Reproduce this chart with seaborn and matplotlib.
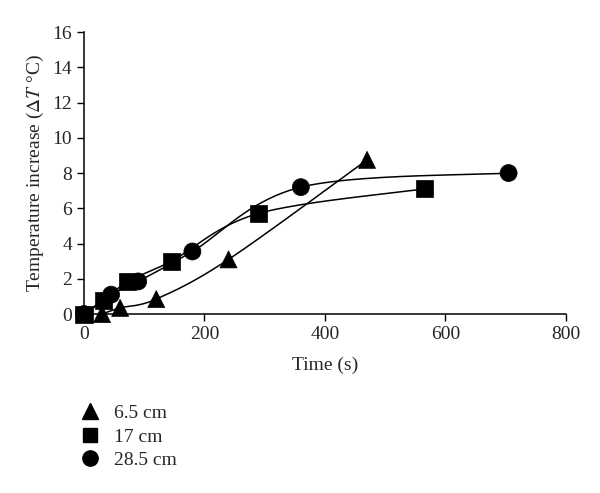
import numpy as np
import pandas as pd
import matplotlib
matplotlib.use("Agg")
import matplotlib.pyplot as plt
import seaborn as sns

# --- data ---
t_65 = [30, 60, 120, 240, 470]
dT_65 = [0.0, 0.35, 0.85, 3.1, 8.75]

t_17 = [0, 32, 73, 145, 289, 565]
dT_17 = [0.0, 0.75, 1.85, 3.0, 5.7, 7.1]

t_285 = [0, 45, 90, 180, 360, 705]
dT_285 = [0.0, 1.1, 1.85, 3.55, 7.2, 8.0]

labels = ["6.5 cm", "17 cm", "28.5 cm"]
markers = ["^", "s", "o"]

sns.set_style("ticks")
plt.rcParams["font.family"] = ["Liberation Serif", "DejaVu Serif"]
plt.rcParams["mathtext.fontset"] = "stix"

fig = plt.figure(figsize=(6, 4.93), dpi=100)
ax = fig.add_axes([0.14, 0.363, 0.803, 0.572])

XMAX, YMAX = 800, 16
W, H = 0.803 * 600, 0.572 * 493


def excel_smooth(x, y, n=40):
    # bezier smoothing like a spreadsheet "smoothed line", done in screen units
    p = np.column_stack([np.asarray(x) / XMAX * W, np.asarray(y) / YMAX * H])
    pts = []
    for i in range(len(p) - 1):
        p0 = p[max(i - 1, 0)]
        p1, p2 = p[i], p[i + 1]
        p3 = p[min(i + 2, len(p) - 1)]
        c1 = p1 + (p2 - p0) / 6
        c2 = p2 - (p3 - p1) / 6
        s = np.linspace(0, 1, n)[:, None]
        seg = (1 - s) ** 3 * p1 + 3 * (1 - s) ** 2 * s * c1 + 3 * (1 - s) * s ** 2 * c2 + s ** 3 * p2
        pts.append(seg)
    pts = np.vstack(pts)
    return pts[:, 0] / W * XMAX, pts[:, 1] / H * YMAX


series = [(t_65, dT_65), (t_17, dT_17), (t_285, dT_285)]
for (tx, ty), lab, mk in zip(series, labels, markers):
    sx, sy = excel_smooth(tx, ty)
    ax.plot(sx, sy, color="black", lw=1.1, zorder=2)

frames = []
for (tx, ty), lab in zip(series, labels):
    frames.append(pd.DataFrame({"t": tx, "dT": ty, "dist": lab}))
df = pd.concat(frames, ignore_index=True)

sns.scatterplot(data=df, x="t", y="dT", style="dist", style_order=labels,
                markers=dict(zip(labels, markers)), color="black",
                s=150, edgecolor="black", linewidth=0.5, ax=ax, zorder=3,
                legend=False)

ax.set_xlim(0, XMAX)
ax.set_ylim(0, YMAX)
ax.set_xticks(np.arange(0, 801, 200))
ax.set_yticks(np.arange(0, 17, 2))
for c in ax.collections:
    c.set_clip_on(False)

ax.tick_params(axis="both", labelsize=14, length=5, width=1, color="black", direction="out")
for sp in ["left", "bottom"]:
    ax.spines[sp].set_linewidth(1.1)
    ax.spines[sp].set_color("black")
sns.despine(ax=ax)

ax.set_xlabel("Time (s)", fontsize=14, labelpad=10)
ax.set_ylabel(r"Temperature increase ($\Delta T$ °C)", fontsize=14, labelpad=5)

handles = [plt.Line2D([], [], marker=m, color="black", linestyle="none", markersize=11 if m != "s" else 10)
           for m in markers]
fig.legend(handles, labels, loc="upper left", bbox_to_anchor=(0.105, 0.215),
           frameon=False, fontsize=14, handletextpad=0.7, labelspacing=0.3,
           handlelength=1.0)

fig.savefig("out.png", dpi=100)
